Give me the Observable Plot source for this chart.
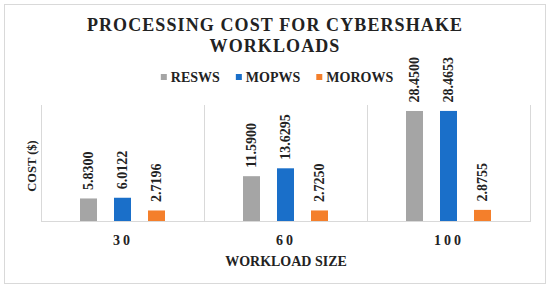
<!DOCTYPE html>
<html>
<head>
<meta charset="utf-8">
<script src="https://cdn.jsdelivr.net/npm/d3@7"></script>
<script src="https://cdn.jsdelivr.net/npm/@observablehq/plot@0.6"></script>
<style>
  html, body { margin: 0; padding: 0; background: #fff; }
  g[aria-label="fx-axis tick label"] { letter-spacing: 3px; }
</style>
</head>
<body>
<div id="chart"></div>
<script>
const categories = ["30", "60", "100"];
const series = ["RESWS", "MOPWS", "MOROWS"];
const resws = [5.8300, 11.5900, 28.4500];
const mopws = [6.0122, 13.6295, 28.4653];
const morows = [2.7196, 2.7250, 2.8755];
const colors = ["#a5a5a5", "#1a6fc9", "#f47f2b"];
const titleLines = ["PROCESSING COST FOR CYBERSHAKE", "WORKLOADS"];
const xLabel = "WORKLOAD SIZE";
const yLabel = "COST ($)";

const values = [resws, mopws, morows];
const data = [];
categories.forEach((c, i) => series.forEach((s, j) => data.push({cat: c, series: s, value: values[j][i]})));
const fmt = d3.format(".4f");
const font = "'Liberation Serif', 'Times New Roman', serif";

const chart = Plot.plot({
  width: 550,
  height: 288,
  marginLeft: 41,
  marginRight: 20,
  marginTop: 105,
  marginBottom: 67,
  style: {fontFamily: font, background: "#fff", overflow: "visible"},
  fx: {domain: categories, padding: 0, label: null},
  x: {domain: series, paddingInner: 0.5, paddingOuter: 1.147, axis: null},
  y: {domain: [0, 30], axis: null},
  color: {domain: series, range: colors},
  marks: [
    Plot.frame({anchor: "left", stroke: "#d9d9d9", strokeOpacity: 1}),
    Plot.frame({anchor: "right", stroke: "#d9d9d9", strokeOpacity: 1}),
    Plot.barY(data, {fx: "cat", x: "series", y: "value", fill: "series"}),
    Plot.ruleY([0], {stroke: "#d9d9d9"}),
    Plot.text(data, {fx: "cat", x: "series", y: "value", text: d => fmt(d.value), rotate: -90,
      textAnchor: "start", dy: -9, fontWeight: "bold", fontSize: 14, fill: "#222"}),
    Plot.axisFx({anchor: "bottom", tickSize: 0, tickPadding: 14, fontSize: 14, fontWeight: "bold", label: null, color: "#222"})
  ]
});
document.getElementById("chart").appendChild(chart);

const svg = d3.select(chart);
svg.insert("rect", ":first-child")
  .attr("x", 4.5).attr("y", 4.5).attr("width", 541).attr("height", 279)
  .attr("fill", "#fff").attr("stroke", "#d9d9d9");

const addText = (t) => svg.append("text").text(t)
  .style("font-family", font).style("font-weight", "bold").attr("fill", "#222");

// title
titleLines.forEach((t, i) => {
  addText(t).attr("x", 275).attr("y", 31 + i * 21)
    .attr("text-anchor", "middle")
    .style("font-size", "18px").style("letter-spacing", "1.1px");
});

// axis labels
addText(xLabel).attr("x", 286).attr("y", 266).attr("text-anchor", "middle").style("font-size", "14px");
addText(yLabel).attr("transform", "translate(36,166) rotate(-90)").attr("text-anchor", "middle").style("font-size", "12.5px");

// legend
const lg = svg.append("g");
let cx = 0;
series.forEach((s, i) => {
  lg.append("rect").attr("x", cx).attr("y", -3).attr("width", 6).attr("height", 6).attr("fill", colors[i]);
  const t = lg.append("text").text(s).attr("x", cx + 10).attr("y", 5)
    .attr("text-anchor", "start")
    .style("font-family", font)
    .style("font-size", "14px").style("font-weight", "bold").attr("fill", "#222");
  cx += 10 + t.node().getComputedTextLength() + 16;
});
const total = cx - 16;
lg.attr("transform", `translate(${277 - total / 2},77)`);
</script>
</body>
</html>
